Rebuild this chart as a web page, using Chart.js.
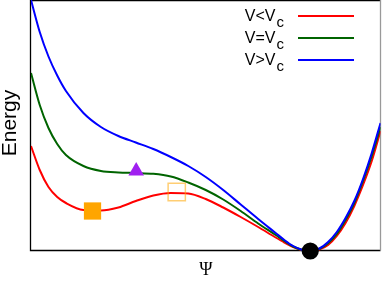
<!DOCTYPE html>
<html>
<head>
<meta charset="utf-8">
<script src="https://cdn.jsdelivr.net/npm/chart.js@4"></script>
<style>
  body { margin: 0; background: #fff; }
  #wrap { position: relative; width: 382px; height: 281px; overflow: hidden; }
  #energyChart { position: absolute; left: 0; top: 0; }
  .lbl { position: absolute; font-family: "Liberation Sans", Arial, sans-serif; color: #000; white-space: nowrap; }
  .leg { font-size: 16px; line-height: 16px; text-align: right; width: 80px; left: 204px; }
  .leg span { position: relative; top: 6px; font-size: 15px; margin-left: 1px; }
  .swatch { position: absolute; left: 298px; width: 56px; height: 2px; }
  #ylab { font-size: 21px; line-height: 24px; width: 120px; height: 24px; text-align: center;
          left: -51px; top: 111px; transform: rotate(-90deg); }
  #xlab { font-family: "Liberation Serif", "DejaVu Serif", serif; font-size: 18px; line-height: 18px;
          width: 40px; text-align: center; left: 186px; top: 260px; }
</style>
</head>
<body>
<div id="wrap">
  <canvas id="energyChart" width="382" height="281"></canvas>
  <div class="lbl leg" style="top:8px">V&lt;V<span>c</span></div>
  <div class="lbl leg" style="top:30px">V=V<span>c</span></div>
  <div class="lbl leg" style="top:52px">V&gt;V<span>c</span></div>
  <div class="swatch" style="top:15px;background:#ff0000"></div>
  <div class="swatch" style="top:37px;background:#006400"></div>
  <div class="swatch" style="top:59px;background:#0000ff"></div>
  <div class="lbl" id="ylab">Energy</div>
  <div class="lbl" id="xlab">Ψ</div>
</div>
<script>
// values (arbitrary units, no ticks shown)
const psi = [0, 0.025, 0.05, 0.075, 0.1, 0.15, 0.2, 0.25, 0.3, 0.35, 0.4, 0.45, 0.5,
             0.55, 0.6, 0.65, 0.7, 0.725, 0.75, 0.775, 0.8, 0.825, 0.85, 0.875, 0.9, 0.925, 0.95, 0.975, 1.0];
const energyBelow = [1.05, 0.81, 0.64, 0.54, 0.48, 0.41, 0.405, 0.435, 0.50, 0.555, 0.58, 0.575, 0.52,
                     0.435, 0.34, 0.24, 0.135, 0.085, 0.04, 0.01, 0, 0.015, 0.06, 0.15, 0.28, 0.45, 0.66, 0.90, 1.20];
const energyCrit = [1.78, 1.46, 1.23, 1.07, 0.96, 0.85, 0.80, 0.785, 0.78, 0.772, 0.745, 0.685, 0.61,
                    0.515, 0.40, 0.275, 0.16, 0.10, 0.045, 0.012, 0, 0.02, 0.077, 0.17, 0.31, 0.48, 0.70, 0.95, 1.24];
const energyAbove = [2.51, 2.19, 1.945, 1.755, 1.60, 1.38, 1.24, 1.15, 1.085, 1.02, 0.94, 0.85, 0.74,
                     0.61, 0.465, 0.32, 0.18, 0.11, 0.05, 0.0125, 0, 0.025, 0.09, 0.19, 0.33, 0.50, 0.72, 0.98, 1.28];

// special points: local min, barrier top, inflection, global min
const markerPsi = [0.176, 0.417, 0.301, 0.799];
const markerEnergy = [0.40, 0.59, 0.80, 0];

document.addEventListener("DOMContentLoaded", function () {
  const toXY = (ys) => psi.map((x, i) => ({ x: x, y: ys[i] }));
  const mk = (i) => [{ x: markerPsi[i], y: markerEnergy[i] }];

  const curve = (data, color, order) => ({
    type: "line",
    data: toXY(data),
    borderColor: color,
    borderWidth: 2,
    pointRadius: 0,
    cubicInterpolationMode: "monotone",
    fill: false,
    order: order,
  });

  // plain frame around the plot area
  const framePlugin = {
    id: "frame",
    beforeDatasetsDraw(chart) {
      const a = chart.chartArea;
      const c = chart.ctx;
      c.save();
      c.lineWidth = 1.3;
      c.strokeStyle = "#000";
      c.beginPath();
      c.moveTo(a.left - 0.5, 0.5);
      c.lineTo(a.right, 0.5);
      c.moveTo(a.left - 0.5, 0);
      c.lineTo(a.left - 0.5, a.bottom - 0.5);
      c.lineTo(a.right, a.bottom - 0.5);
      c.stroke();
      c.strokeStyle = "#999";
      c.beginPath();
      c.moveTo(a.right, 0);
      c.lineTo(a.right, a.bottom - 0.5);
      c.stroke();
      c.restore();
    },
  };

  const ctx = document.getElementById("energyChart").getContext("2d");
  new Chart(ctx, {
    type: "scatter",
    data: {
      datasets: [
        { data: mk(0), pointStyle: "rect", pointRadius: 12.2, backgroundColor: "#ffa500",
          borderColor: "#ffa500", borderWidth: 0, order: 1, clip: false },
        { data: mk(1), pointStyle: "rect", pointRadius: 12.2, backgroundColor: "rgba(0,0,0,0)",
          borderColor: "rgba(255,165,0,0.55)", borderWidth: 1.5, order: 1, clip: false },
        { data: mk(2), pointStyle: "triangle", pointRadius: 9, backgroundColor: "#a020f0",
          borderColor: "#a020f0", borderWidth: 0, order: 1, clip: false },
        { data: mk(3), pointStyle: "circle", pointRadius: 8.6, backgroundColor: "#000",
          borderColor: "#000", borderWidth: 0, order: 1, clip: false },
        curve(energyAbove, "#0000ff", 2),
        curve(energyCrit, "#006400", 3),
        curve(energyBelow, "#ff0000", 4),
      ],
    },
    options: {
      responsive: false,
      animation: false,
      devicePixelRatio: 1,
      layout: { autoPadding: false, padding: { top: 0, right: 1.5, left: 0, bottom: 0 } },
      plugins: { legend: { display: false }, tooltip: { enabled: false } },
      scales: {
        x: {
          type: "linear", min: 0, max: 1,
          grid: { display: false }, border: { display: false }, ticks: { display: false },
          afterFit(s) { s.height = 30; },
        },
        y: {
          min: 0, max: 2.51,
          grid: { display: false }, border: { display: false }, ticks: { display: false },
          afterFit(s) { s.width = 31; },
        },
      },
    },
    plugins: [framePlugin],
  });
});
</script>
</body>
</html>
